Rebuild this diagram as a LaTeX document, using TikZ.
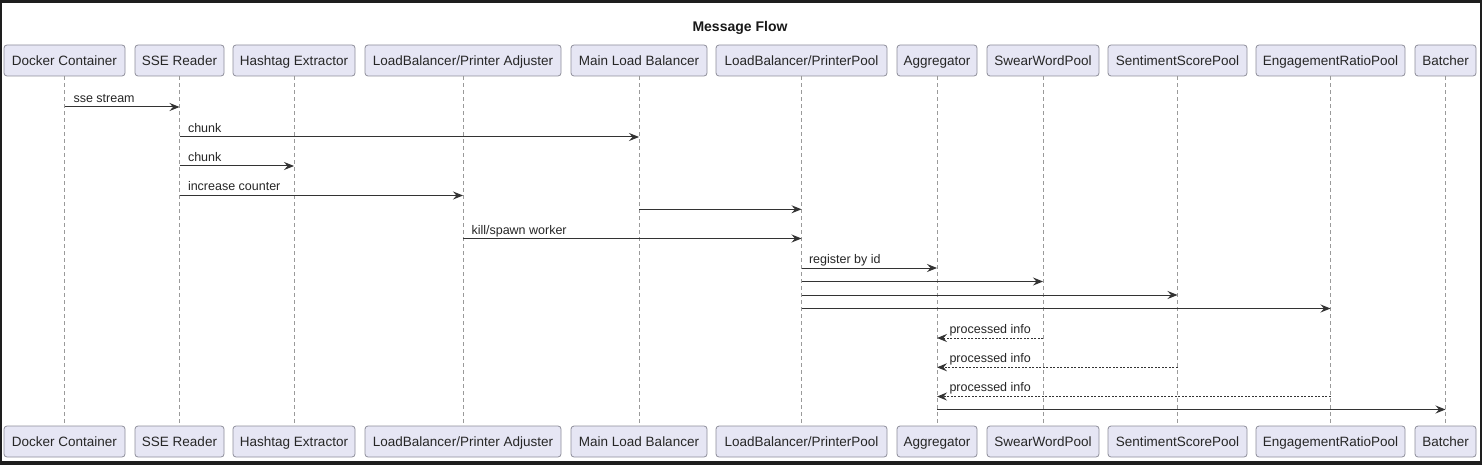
\documentclass[tikz,border=0pt]{standalone}
\usepackage{fontspec}
\setmainfont{Liberation Sans}
\usetikzlibrary{arrows.meta}
\definecolor{framec}{HTML}{1E1E1E}
\definecolor{actfill}{HTML}{E6E6F4}
\definecolor{actdraw}{HTML}{8E8E9A}
\definecolor{lifec}{HTML}{9A9A9A}
\definecolor{msgc}{HTML}{333333}
\newcommand{\actorpair}[4]{%
  \node[actor, minimum width=#3pt] (#1) at (#2,60.5) {#4};
  \node[actor, minimum width=#3pt] (#1b) at (#2,441.5) {#4};
  \draw[life] (#1) -- (#1b);}
\begin{document}
\begin{tikzpicture}[x=1pt,y=-1pt,
 actor/.style={draw=actdraw, fill=actfill, rounded corners=3pt, minimum height=31pt, inner sep=0pt, text height=12pt, text depth=1.5pt, font=\fontsize{13.5}{16}\selectfont, text=black!85, line width=0.8pt},
 life/.style={draw=lifec, line width=0.8pt, dash pattern=on 4pt off 3pt},
 msg/.style={draw=msgc, line width=1pt, -{Stealth[length=10pt,width=8pt,inset=3.5pt]}},
 ret/.style={msg, dash pattern=on 2pt off 1.5pt},
 lbl/.style={font=\fontsize{12.5}{14}\selectfont, inner sep=0pt, anchor=base west, text=black!85}]
\fill[framec] (0,0) rectangle (1482,465);
\fill[white] (2,3) rectangle (1480,461);
\useasboundingbox (0,0) rectangle (1482,465);
\node[font=\bfseries\fontsize{14}{16}\selectfont, text=black!90] (title) at (740,27.5) {Message Flow};
\actorpair{dc}{64.5}{121}{Docker Container}
\actorpair{sse}{179.5}{89}{SSE Reader}
\actorpair{hx}{294}{122}{Hashtag Extractor}
\actorpair{adj}{463}{196}{LoadBalancer/Printer Adjuster}
\actorpair{mlb}{639}{136}{Main Load Balancer}
\actorpair{pool}{801.5}{171}{LoadBalancer/PrinterPool}
\actorpair{agg}{937}{80}{Aggregator}
\actorpair{sw}{1043}{112}{SwearWordPool}
\actorpair{ss}{1177.5}{139}{SentimentScorePool}
\actorpair{er}{1330.5}{149}{EngagementRatioPool}
\actorpair{bat}{1445.5}{61}{Batcher}
\coordinate (m1) at (0,107);
\coordinate (m2) at (0,137);
\coordinate (m3) at (0,166);
\coordinate (m4) at (0,195.5);
\coordinate (m5) at (0,209.3);
\coordinate (m6) at (0,238.5);
\coordinate (m7) at (0,268);
\coordinate (m8) at (0,281.5);
\coordinate (m9) at (0,295);
\coordinate (m10) at (0,308.5);
\coordinate (m11) at (0,338);
\coordinate (m12) at (0,367.3);
\coordinate (m13) at (0,396.5);
\coordinate (m14) at (0,409.5);
\draw[msg] (dc |- m1) -- (sse |- m1) node[lbl, pos=0, xshift=8.5pt, yshift=4pt] {sse stream};
\draw[msg] (sse |- m2) -- (mlb |- m2) node[lbl, pos=0, xshift=8pt, yshift=4.5pt] {chunk};
\draw[msg] (sse |- m3) -- (hx |- m3) node[lbl, pos=0, xshift=8pt, yshift=4.5pt] {chunk};
\draw[msg] (sse |- m4) -- (adj |- m4) node[lbl, pos=0, xshift=8pt, yshift=4.5pt] {increase counter};
\draw[msg] (mlb |- m5) -- (pool |- m5);
\draw[msg] (adj |- m6) -- (pool |- m6) node[lbl, pos=0, xshift=8pt, yshift=4.5pt] {kill/spawn worker};
\draw[msg] (pool |- m7) -- (agg |- m7) node[lbl, pos=0, xshift=7pt, yshift=4.5pt] {register by id};
\draw[msg] (pool |- m8) -- (sw |- m8);
\draw[msg] (pool |- m9) -- (ss |- m9);
\draw[msg] (pool |- m10) -- (er |- m10);
\draw[ret] (sw |- m11) -- (agg |- m11) node[lbl, pos=1, xshift=12pt, yshift=5pt] {processed info};
\draw[ret] (ss |- m12) -- (agg |- m12) node[lbl, pos=1, xshift=12pt, yshift=5pt] {processed info};
\draw[ret] (er |- m13) -- (agg |- m13) node[lbl, pos=1, xshift=12pt, yshift=5pt] {processed info};
\draw[msg] (agg |- m14) -- (bat |- m14);
\end{tikzpicture}
\end{document}
